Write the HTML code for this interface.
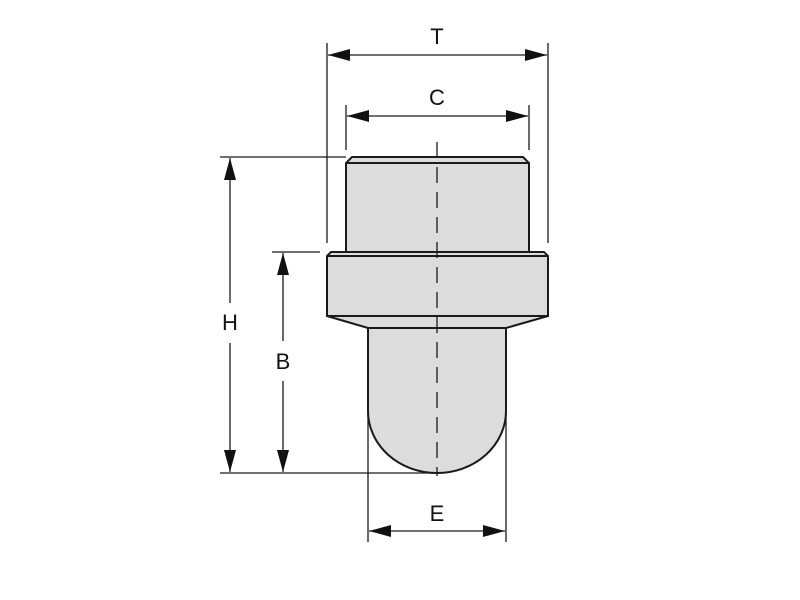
<!DOCTYPE html>
<html><head><meta charset="utf-8"><style>
html,body{margin:0;padding:0;background:#fff;width:800px;height:600px;overflow:hidden}
text{font-family:"Liberation Sans",Arial,sans-serif;font-size:22px;fill:#111}
</style></head><body>
<svg width="800" height="600" viewBox="0 0 800 600" xmlns="http://www.w3.org/2000/svg">
<defs>
<marker id="a" viewBox="0 0 22 12" refX="22" refY="6" markerWidth="22" markerHeight="12" markerUnits="userSpaceOnUse" orient="auto-start-reverse"><path d="M0,0 L22,6 L0,12 Z" fill="#111"/></marker>
</defs>
<g fill="#dcdcdc" stroke="#1a1a1a" stroke-width="2">
<!-- top cylinder -->
<path d="M352,157 L523,157 L529,163 L529,252 L346,252 L346,163 Z"/>
<line x1="346" y1="163" x2="529" y2="163"/>
<!-- collar -->
<path d="M331,252 L544,252 L548,256 L548,316 L327,316 L327,256 Z"/>
<line x1="327" y1="256" x2="548" y2="256"/>
<!-- taper -->
<path d="M327,316 L548,316 L506,328 L368,328 Z"/>
<!-- lower body -->
<path d="M368,328 L506,328 L506,411 A69,62 0 0 1 368,411 Z"/>
</g>
<g stroke="#1a1a1a" stroke-width="1.3" fill="none">
<line x1="437" y1="142" x2="437" y2="476" stroke-dasharray="16,9"/>
<!-- T -->
<line x1="327" y1="43" x2="327" y2="243"/>
<line x1="548" y1="43" x2="548" y2="243"/>
<line x1="328" y1="55" x2="547" y2="55" marker-start="url(#a)" marker-end="url(#a)"/>
<!-- C -->
<line x1="346" y1="105" x2="346" y2="150"/>
<line x1="529" y1="105" x2="529" y2="150"/>
<line x1="347" y1="116" x2="528" y2="116" marker-start="url(#a)" marker-end="url(#a)"/>
<!-- H -->
<line x1="220" y1="157" x2="346" y2="157"/>
<line x1="220" y1="473" x2="437" y2="473"/>
<line x1="230" y1="303" x2="230" y2="158" marker-end="url(#a)"/>
<line x1="230" y1="343" x2="230" y2="472" marker-end="url(#a)"/>
<!-- B -->
<line x1="272" y1="252" x2="320" y2="252"/>
<line x1="283" y1="341" x2="283" y2="253" marker-end="url(#a)"/>
<line x1="283" y1="381" x2="283" y2="472" marker-end="url(#a)"/>
<!-- E -->
<line x1="368" y1="412" x2="368" y2="542"/>
<line x1="506" y1="412" x2="506" y2="542"/>
<line x1="369" y1="531" x2="505" y2="531" marker-start="url(#a)" marker-end="url(#a)"/>
</g>
<text x="437" y="44" text-anchor="middle">T</text>
<text x="437" y="105" text-anchor="middle">C</text>
<text x="230" y="330" text-anchor="middle">H</text>
<text x="283" y="369" text-anchor="middle">B</text>
<text x="437" y="521" text-anchor="middle">E</text>
</svg>
</body></html>
